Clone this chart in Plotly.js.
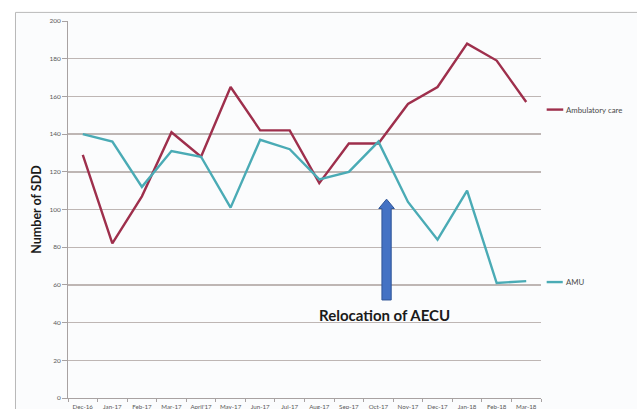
<!DOCTYPE html>
<html>
<head>
<meta charset="utf-8">
<script src="https://cdn.plot.ly/plotly-3.0.1.min.js"></script>
<style>html,body{margin:0;padding:0;background:#fff;}#chart{width:637px;height:409px;}</style>
</head>
<body>
<div id="chart"></div>
<script>
const months = ["Dec-16","Jan-17","Feb-17","Mar-17","April'17","May-17","Jun-17","Jul-17","Aug-17","Sep-17","Oct-17","Nov-17","Dec-17","Jan-18","Feb-18","Mar-18"];
const ambulatoryCare = [129, 82, 107, 141, 128, 165, 142, 142, 114, 135, 135, 156, 165, 188, 179, 157];
const amu = [140, 136, 112, 131, 128, 101, 137, 132, 116, 120, 136, 104, 84, 110, 61, 62];
const seriesNames = ["Ambulatory care", "AMU"];
const yTitle = "Number of SDD";
const noteText = "Relocation of AECU";

const red = "#9e2f4c";
const teal = "#4aabb5";
const font = "Lato, 'Open Sans', sans-serif";

const traces = [
  {x: months, y: ambulatoryCare, name: seriesNames[0], type: "scatter", mode: "lines",
   line: {color: red, width: 2.4}, showlegend: false},
  {x: months, y: amu, name: seriesNames[1], type: "scatter", mode: "lines",
   line: {color: teal, width: 2.4}, showlegend: false}
];

// arrow geometry in paper-x / data-y
const ax = 0.6735, sh = 0.0098, hh = 0.0165;
const yBot = 52, yHeadBase = 100.5, yTop = 105.5;
const arrowPath = `M ${ax-sh} ${yBot} L ${ax+sh} ${yBot} L ${ax+sh} ${yHeadBase} L ${ax+hh} ${yHeadBase} L ${ax} ${yTop} L ${ax-hh} ${yHeadBase} L ${ax-sh} ${yHeadBase} Z`;

const layout = {
  width: 637, height: 409,
  margin: {l: 68, r: 96, t: 21, b: 11},
  paper_bgcolor: "#ffffff",
  plot_bgcolor: "rgba(0,0,0,0)",
  font: {family: font, color: "#595959", size: 6},
  showlegend: false,
  xaxis: {
    type: "category", range: [-0.5, 15.5],
    showgrid: false, showline: true, linecolor: "#a8a2a2", linewidth: 1,
    ticks: "outside", ticklen: 3, tickcolor: "#a8a2a2", tickson: "boundaries",
    ticklabelstandoff: 3,
    tickfont: {size: 6.2, color: "#595959"}, tickangle: 0, automargin: false,
    fixedrange: true
  },
  yaxis: {
    range: [0, 200], dtick: 20, tick0: 0,
    showgrid: true, gridcolor: "#beb6b4", gridwidth: 1.4,
    zeroline: false, showline: true, linecolor: "#a8a2a2", linewidth: 1,
    ticks: "outside", ticklen: 5, tickcolor: "#a8a2a2",
    tickfont: {size: 6.5, color: "#595959"}, automargin: false,
    title: {text: yTitle, font: {family: font, size: 12.5, color: "#1a1a1a", weight: "bold"}, standoff: 5},
    fixedrange: true
  },
  shapes: [
    {type: "rect", xref: "paper", yref: "paper", x0: -0.111, x1: 1.25, y0: -0.1, y1: 1.0228,
     line: {color: "#b9b9b9", width: 1}, fillcolor: "#fbfcfd", layer: "below"},
    {type: "path", xref: "paper", yref: "y", path: arrowPath,
     fillcolor: "#4472c4", line: {color: "#2f5597", width: 1}},
    {type: "line", xref: "paper", yref: "y", x0: 1.012, x1: 1.047, y0: 153, y1: 153,
     line: {color: red, width: 2.4}},
    {type: "line", xref: "paper", yref: "y", x0: 1.012, x1: 1.046, y0: 61.5, y1: 61.5,
     line: {color: teal, width: 2.4}}
  ],
  annotations: [
    {xref: "paper", yref: "y", x: 0.669, y: 44, text: noteText, showarrow: false,
     font: {family: font, size: 15, color: "#1a1a1a", weight: "bold"}, xanchor: "center", yanchor: "middle"},
    {xref: "paper", yref: "y", x: 1.049, y: 153, text: seriesNames[0], showarrow: false,
     font: {family: font, size: 7.8, color: "#4a4a4a"}, xanchor: "left", yanchor: "middle"},
    {xref: "paper", yref: "y", x: 1.049, y: 61.5, text: seriesNames[1], showarrow: false,
     font: {family: font, size: 7.8, color: "#4a4a4a"}, xanchor: "left", yanchor: "middle"}
  ]
};

Plotly.newPlot("chart", traces, layout, {displayModeBar: false, staticPlot: true});
</script>
</body>
</html>
